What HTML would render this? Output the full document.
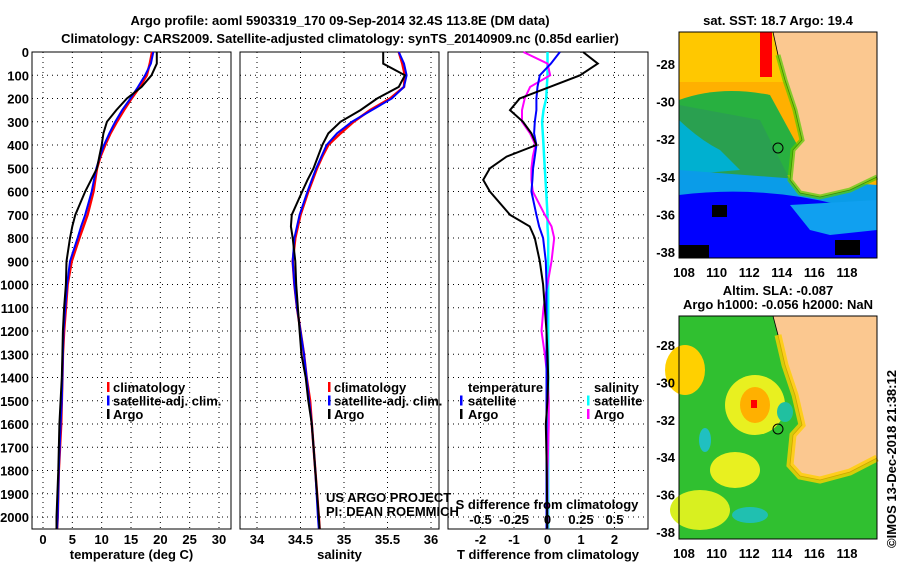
<!DOCTYPE html>
<html><head><meta charset="utf-8"><style>
body{margin:0;background:#fff}
svg text{font-family:"Liberation Sans",sans-serif;font-weight:bold;font-size:13px;fill:#000}
</style></head><body>
<svg id="c" width="900" height="580" xmlns="http://www.w3.org/2000/svg">
<text x="340" y="25" text-anchor="middle" font-size="14">Argo profile: aoml 5903319_170 09-Sep-2014 32.4S 113.8E (DM data)</text>
<text x="340" y="43" text-anchor="middle" font-size="14">Climatology: CARS2009. Satellite-adjusted climatology: synTS_20140909.nc (0.85d earlier)</text>
<g id="maps">
<text x="778" y="25" text-anchor="middle">sat. SST: 18.7 Argo: 19.4</text>
<g>
<rect x="679" y="32" width="198" height="226" fill="#ffb000"/>
<rect x="679" y="32" width="198" height="50" fill="#ffc800"/>
<rect x="760" y="32" width="12" height="45" fill="#f00"/>
<path d="M679 100 Q720 85 770 95 L800 150 L800 175 L679 175 Z" fill="#28b040"/>
<path d="M679 105 L760 120 L790 180 L679 180Z" fill="#2aa050"/>
<path d="M679 120 Q700 140 720 150 L740 170 L679 175Z" fill="#00b0d0"/>
<path d="M679 170 L877 185 L877 258 L679 258Z" fill="#0a9ce8"/>
<path d="M679 195 Q760 185 840 205 L877 215 L877 258 L679 258Z" fill="#0000ff"/>
<path d="M790 205 L877 200 L877 230 L830 235 L810 230Z" fill="#10a0f0"/>
<rect x="679" y="245" width="30" height="13" fill="#000"/>
<rect x="712" y="205" width="15" height="12" fill="#000"/>
<rect x="835" y="240" width="25" height="15" fill="#000"/>
<path d="M773 32 L877 32 L877 177 L850 190 L820 197 L800 193 L790 180 L793 150 L802 140 L795 110 L785 80 L778 55Z" fill="#fbc890" stroke="#000" stroke-width="0.8"/>
<path d="M778 55 L785 80 L795 110 L802 140 L793 150 L790 180 L800 193 L820 197 L850 190 L877 177" fill="none" stroke="#5c0" stroke-width="5" opacity="0.7"/>
<circle cx="778" cy="148" r="5" fill="none" stroke="#000"/>
<rect x="679" y="32" width="198" height="226" fill="none" stroke="#000"/>
</g>
<text x="778" y="295" text-anchor="middle">Altim. SLA: -0.087</text>
<text x="778" y="309" text-anchor="middle">Argo h1000: -0.056 h2000: NaN</text>
<g>
<rect x="679" y="316" width="198" height="223" fill="#30c030"/>
<ellipse cx="685" cy="370" rx="20" ry="25" fill="#ffd000"/>
<ellipse cx="755" cy="405" rx="30" ry="30" fill="#e8f020"/>
<ellipse cx="755" cy="405" rx="15" ry="18" fill="#ffb000"/>
<rect x="751" y="400" width="6" height="8" fill="#f00"/>
<ellipse cx="735" cy="470" rx="25" ry="18" fill="#e8f020"/>
<ellipse cx="700" cy="510" rx="30" ry="20" fill="#d8f020"/>
<ellipse cx="705" cy="440" rx="6" ry="12" fill="#20c0c0"/>
<ellipse cx="750" cy="515" rx="18" ry="8" fill="#20c0b0"/>
<ellipse cx="785" cy="412" rx="8" ry="10" fill="#20c0a0"/>
<path d="M773 316 L877 316 L877 458 L850 472 L820 480 L800 476 L790 465 L793 435 L802 425 L795 395 L785 365 L778 335Z" fill="#fbc890" stroke="#000" stroke-width="0.8"/>
<path d="M778 335 L785 365 L795 395 L802 425 L793 435 L790 465 L800 476 L820 480 L850 472 L877 458" fill="none" stroke="#ffd000" stroke-width="7" opacity="0.8"/>
<circle cx="778" cy="429" r="5" fill="none" stroke="#000"/>
<rect x="679" y="316" width="198" height="223" fill="none" stroke="#000"/>
</g>
<text transform="translate(896,548) rotate(-90)" font-weight="normal" font-size="12">©IMOS 13-Dec-2018 21:38:12</text>
</g>
</svg>
<script>
const depths=[0,50,100,150,200,250,300,350,400,450,500,550,600,700,750,800,900,1000,1100,1200,1300,1400,1500,1600,1800,2000,2050];
const tempArgo=[19.4,19.4,18.5,16.8,14.3,12.5,10.9,10.3,10,9.6,9.2,8.2,7.2,5.5,5,4.6,4,3.9,3.6,3.4,3.3,3.2,3,2.8,2.6,2.3,2.3];
const tempClim=[18.6,18.2,17.7,16.5,15.1,13.8,12.6,11.5,10.6,9.8,9.2,8.9,8.6,7.6,6.9,6.2,4.9,4.2,3.9,3.6,3.4,3.3,3.2,3.1,2.7,2.5,2.4];
const tempSat=[18.8,18.4,17.4,16.2,14.9,13.5,12.3,11.3,10.4,9.7,9.1,8.7,8.3,7.2,6.5,5.9,4.6,4.1,3.8,3.5,3.4,3.3,3.2,3.0,2.7,2.5,2.4];
const salArgo=[35.45,35.45,35.7,35.63,35.38,35.19,34.96,34.82,34.75,34.7,34.65,34.58,34.52,34.4,34.39,34.41,34.44,34.45,34.47,34.49,34.51,34.56,34.59,34.63,34.67,34.71,34.72];
const salClim=[35.63,35.67,35.7,35.69,35.53,35.3,35.11,34.96,34.82,34.75,34.69,34.64,34.59,34.5,34.47,34.44,34.41,34.43,34.46,34.5,34.54,34.57,34.61,34.63,34.67,34.71,34.72];
const salSat=[35.63,35.69,35.72,35.69,35.55,35.32,35.09,34.92,34.8,34.74,34.68,34.63,34.58,34.49,34.46,34.43,34.41,34.43,34.46,34.5,34.54,34.57,34.6,34.63,34.67,34.7,34.71];
const dTArgo=[1.06,1.5,0.97,0.07,-0.83,-1.12,-0.73,-0.48,-0.33,-1.22,-1.72,-1.92,-1.72,-1.12,-0.53,-0.38,-0.23,-0.13,-0.08,-0.03,0,0.02,0,-0.05,-0.02,-0.01,-0.01];
const dTSat=[0.37,0.1,-0.23,-0.3,-0.33,-0.33,-0.38,-0.4,-0.33,-0.38,-0.43,-0.45,-0.48,-0.33,-0.25,-0.13,-0.05,-0.03,-0.03,-0.03,-0.03,-0.03,-0.03,-0.03,-0.03,-0.03,-0.03];
const dSArgo=[-0.18,0,0.02,-0.13,-0.17,-0.19,-0.19,-0.13,-0.09,-0.11,-0.12,-0.12,-0.11,-0.02,0.03,0.05,0.03,0,-0.03,-0.045,-0.02,0,0.01,0.01,0,0,0];
const dSSat=[0,0,0,-0.005,-0.01,-0.03,-0.04,-0.035,-0.03,-0.025,-0.02,-0.015,-0.01,0,0,0.005,0.005,0.005,0.005,0.005,0.005,0.005,0.005,0.005,0.005,0.005,0.005];
const depthTicks=[0,100,200,300,400,500,600,700,800,900,1000,1100,1200,1300,1400,1500,1600,1700,1800,1900,2000];
const tempTicks=[0,5,10,15,20,25,30];
const salTicks=[34,34.5,35,35.5,36];
const dTTicks=[-2,-1,0,1,2];
const dSTicks=[-0.5,-0.25,0,0.25,0.5];
const dSTickLabels=['-0.5','-0.25','0','0.25','0.5'];
const NS='http://www.w3.org/2000/svg',svg=document.getElementById('c');
const Y0=52,Y1=529,yD=d=>Y0+d*(517-Y0)/2000;
function el(t,a,p){const e=document.createElementNS(NS,t);for(const k in a)e.setAttribute(k,a[k]);(p||svg).appendChild(e);return e;}
function txt(x,y,s,anchor,p,w){const e=el('text',{x:x,y:y,'text-anchor':anchor||'middle'},p);if(w)e.setAttribute('font-weight',w);e.textContent=s;return e;}
function panel(name,L,R,xs,ticks,fmt,xlabel){
 const g=el('g',{});
 
 
 depthTicks.forEach(d=>{el('line',{x1:L,x2:R,y1:yD(d),y2:yD(d),stroke:'#000','stroke-dasharray':'1 4','stroke-width':1},g);});
 ticks.forEach(t=>{el('line',{x1:xs(t),x2:xs(t),y1:Y0,y2:Y1,stroke:'#000','stroke-dasharray':'1 4'},g);
  const tl=txt(xs(t),544,fmt(t),'middle',g);
  
  });
 el('rect',{x:L,y:Y0,width:R-L,height:Y1-Y0,fill:'none',stroke:'#000'},g);
 const xl=txt((L+R)/2,559,xlabel,'middle',g);
 
 
 return g;}
function line(g,xs,vals,col,w,name){const d=vals.map((v,i)=>(i?'L':'M')+xs(v).toFixed(1)+' '+yD(depths[i]).toFixed(1)).join('');
 const p=el('path',{d:d,fill:'none',stroke:col,'stroke-width':w},g);
 
 }
depthTicks.forEach(d=>{const t=txt(29,yD(d)+5,String(d),'end');
 
 });
const xT=t=>43+t*(219-43)/30;
const g1=panel('temperature-panel',32,231,xT,tempTicks,String,'temperature (deg C)');
line(g1,xT,tempClim,'#f00',2.5,'temp-climatology-line');line(g1,xT,tempSat,'#00f',2,'temp-satellite-line');line(g1,xT,tempArgo,'#000',2,'temp-argo-line');
const xS=s=>257+(s-34)*87;
const g2=panel('salinity-panel',240,439,xS,salTicks,String,'salinity');
line(g2,xS,salClim,'#f00',2.5,'sal-climatology-line');line(g2,xS,salSat,'#00f',2,'sal-satellite-line');line(g2,xS,salArgo,'#000',2,'sal-argo-line');
const xDT=t=>547.5+t*33.5, xDS=s=>xDT(s*4);
const g3=panel('difference-panel',448,648,xDT,dTTicks,String,'T difference from climatology');
line(g3,xDS,dSSat,'#0ff',2.5,'dsal-satellite-line');line(g3,xDS,dSArgo,'#f0f',2,'dsal-argo-line');
line(g3,xDT,dTSat,'#00f',2,'dtemp-satellite-line');line(g3,xDT,dTArgo,'#000',2,'dtemp-argo-line');
const st=txt(547,509,'S difference from climatology','middle',g3);


dSTicks.forEach((s,i)=>{const t=txt(xDS(s),524,dSTickLabels[i],'middle',g3);
 
 });
function legend(g,x,tx,y,items,name){const lg=el('g',{},g);
 
 
 items.forEach((it,i)=>{if(it[1])el('rect',{x:x,y:y+i*13.5-10,width:2.5,height:10,fill:it[1]},lg);txt(tx,y+i*13.5,it[0],'start',lg);});}
legend(g1,107,113,392,[['climatology','#f00'],['satellite-adj. clim.','#00f'],['Argo','#000']],'temp-legend');
legend(g2,328,334,392,[['climatology','#f00'],['satellite-adj. clim.','#00f'],['Argo','#000']],'sal-legend');
legend(g3,460,468,392,[['temperature',null],['satellite','#00f'],['Argo','#000']],'dtemp-legend');
legend(g3,587,594,392,[['salinity',null],['satellite','#0ff'],['Argo','#f0f']],'dsal-legend');
const c1=txt(326,502,'US ARGO PROJECT','start',g2,'normal');
c1.setAttribute('font-size','12');


const c2=txt(326,516,'PI: DEAN ROEMMICH','start',g2,'normal');
c2.setAttribute('font-size','12');


const lonT=[108,110,112,114,116,118],latT=[-28,-30,-32,-34,-36,-38];
const xLon=l=>684+(l-108)*(847-684)/10;
function mapAxes(yLat,baseY){latT.forEach(l=>{const t=txt(675,yLat(l)+5,String(l),'end');
 
 });
 lonT.forEach(l=>{const t=txt(xLon(l),baseY,String(l));
 
 });}
mapAxes(l=>64+(-28-l)*(252-64)/10,277);
mapAxes(l=>345+(-28-l)*(532-345)/10,558);
</script>
</body></html>
